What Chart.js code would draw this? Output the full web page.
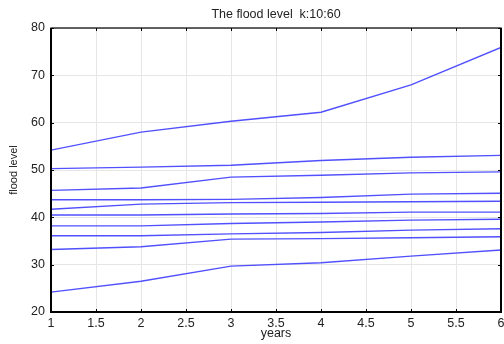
<!DOCTYPE html>
<html>
<head>
<meta charset="utf-8">
<script src="https://cdn.jsdelivr.net/npm/chart.js@4/dist/chart.umd.min.js"></script>
<style>
  html, body { margin: 0; padding: 0; background: #fff; }
  #wrap { width: 504px; height: 344px; }
</style>
</head>
<body>
<div id="wrap"><canvas id="c" width="504" height="344"></canvas></div>
<script>
const years = [1, 2, 3, 4, 5, 6];
const s1  = [54.2, 58.0, 60.3, 62.2, 68.0, 75.9];
const s2  = [50.3, 50.6, 51.0, 52.0, 52.7, 53.1];
const s3  = [45.7, 46.2, 48.5, 48.9, 49.4, 49.6];
const s4  = [43.7, 43.7, 43.8, 44.2, 44.9, 45.1];
const s5  = [41.7, 42.8, 43.1, 43.2, 43.3, 43.4];
const s6  = [40.5, 40.5, 40.7, 40.8, 41.1, 41.1];
const s7  = [38.2, 38.2, 38.7, 39.0, 39.4, 39.6];
const s8  = [36.1, 36.1, 36.5, 36.8, 37.3, 37.6];
const s9  = [33.2, 33.8, 35.4, 35.5, 35.7, 35.9];
const s10 = [24.2, 26.5, 29.7, 30.4, 31.8, 33.1];
const allSeries = [s1, s2, s3, s4, s5, s6, s7, s8, s9, s10];
const titleText = 'The flood level  k:10:60';
const xLabel = 'years';
const yLabel = 'flood level';

const lineColor = 'rgb(80,80,255)';
const datasets = allSeries.map((vals, i) => ({
  label: 'k' + (i + 1),
  data: years.map((x, j) => ({ x: x, y: vals[j] })),
  borderColor: lineColor,
  borderWidth: 1.4,
  pointRadius: 0,
  fill: false,
  tension: 0
}));

const framePlugin = {
  id: 'frame',
  afterDraw(chart) {
    const { ctx, chartArea: a, scales } = chart;
    ctx.save();
    ctx.strokeStyle = '#000';
    ctx.lineWidth = 1;
    const tl = 3;
    ctx.beginPath();
    scales.x.ticks.forEach(t => {
      const px = Math.round(scales.x.getPixelForValue(t.value)) + 0.5;
      ctx.moveTo(px, a.top); ctx.lineTo(px, a.top + tl);
      ctx.moveTo(px, a.bottom); ctx.lineTo(px, a.bottom - tl);
    });
    scales.y.ticks.forEach(t => {
      const py = Math.round(scales.y.getPixelForValue(t.value)) + 0.5;
      ctx.moveTo(a.left, py); ctx.lineTo(a.left + tl, py);
      ctx.moveTo(a.right, py); ctx.lineTo(a.right - tl, py);
    });
    ctx.stroke();
    ctx.lineWidth = 1.2;
    ctx.strokeRect(a.left, a.top, a.right - a.left, a.bottom - a.top);
    ctx.lineWidth = 2;
    ctx.beginPath();
    ctx.moveTo(a.left, a.top); ctx.lineTo(a.left, a.bottom); ctx.lineTo(a.right, a.bottom); ctx.lineTo(a.right, a.top);
    ctx.stroke();
    ctx.restore();
  }
};

new Chart(document.getElementById('c'), {
  type: 'line',
  data: { datasets },
  options: {
    responsive: false,
    animation: false,
    layout: { padding: { left: 0, right: 3, top: 0, bottom: 0 } },
    plugins: {
      legend: { display: false },
      tooltip: { enabled: false },
      title: {
        display: true,
        text: titleText,
        fullSize: false,
        color: '#222',
        font: { family: 'Liberation Sans', size: 12.5, weight: 'normal' },
        padding: { top: 7, bottom: 6 }
      }
    },
    scales: {
      x: {
        type: 'linear',
        min: 1, max: 6,
        afterFit(scale) { scale.height = 32; scale.paddingLeft = 0; scale.paddingRight = 0; },
        ticks: { stepSize: 0.5, color: '#222', padding: 4, maxRotation: 0,
                 callback: (v) => String(v),
                 font: { family: 'Liberation Sans', size: 12.5 } },
        grid: { color: '#e6e6e6', drawTicks: false },
        border: { display: false },
        title: { display: true, text: xLabel, color: '#222',
                 font: { family: 'Liberation Sans', size: 12.5 }, padding: { top: 0, bottom: 3 } }
      },
      y: {
        type: 'linear',
        min: 20, max: 80,
        afterFit(scale) { scale.width = 51; scale.paddingTop = 0; scale.paddingBottom = 0; },
        ticks: { stepSize: 10, color: '#222', padding: 6,
                 font: { family: 'Liberation Sans', size: 12.5 } },
        grid: { color: '#e6e6e6', drawTicks: false },
        border: { display: false },
        title: { display: true, text: yLabel, color: '#222',
                 font: { family: 'Liberation Sans', size: 11 }, padding: { top: 7.5, bottom: 0 } }
      }
    }
  },
  plugins: [framePlugin]
});
</script>
</body>
</html>
